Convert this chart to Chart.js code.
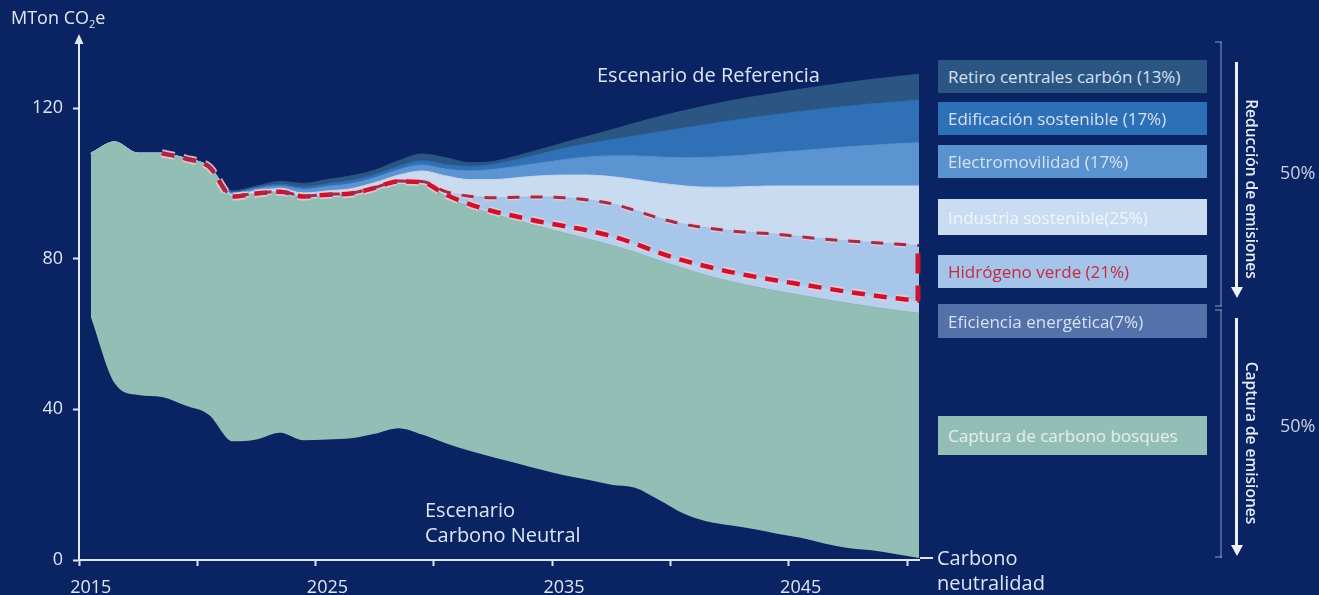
<!DOCTYPE html>
<html lang="es">
<head>
<meta charset="utf-8">
<title>Trayectoria de emisiones hacia la carbono neutralidad</title>
<script src="https://cdn.jsdelivr.net/npm/chart.js@4.4.1/dist/chart.umd.min.js"></script>
<style>
  html, body { margin: 0; padding: 0; background: #0a2362; }
  #wrap { position: relative; width: 1319px; height: 595px; overflow: hidden;
          font-family: 'Open Sans', 'Noto Sans', sans-serif; color: #dfe6f2; }
  #chart { position: absolute; left: 0; top: 0; }
  .t { position: absolute; white-space: nowrap; line-height: 1; }
  .note { font-size: 20px; line-height: 25px; color: #dce5f3; }
  .box { position: absolute; left: 938px; width: 269px; box-sizing: border-box;
         padding-left: 10px; display: flex; align-items: center;
         font-size: 17px; color: #d6e1f1; white-space: nowrap; }
  .vline { position: absolute; width: 2px; background: rgba(150,172,206,0.45); }
  .cap { position: absolute; height: 2px; width: 7px; background: rgba(150,172,206,0.45); }
  .arrow { position: absolute; width: 3px; background: #eef2f8; }
  .head { position: absolute; width: 0; height: 0; border-left: 6px solid transparent;
          border-right: 6px solid transparent; border-top: 11px solid #eef2f8; }
  .vert { position: absolute; writing-mode: vertical-rl; white-space: nowrap;
          font-size: 15.5px; font-weight: 600; color: #e6ecf5; transform: translate(-50%, -50%); }
  .pct { font-size: 18px; color: #c9d2e2; }
</style>
</head>
<body>
<div id="wrap">
  <canvas id="chart" width="1319" height="595"></canvas>

  <div class="t" style="left:11px;top:8px;font-size:18px;color:#e3e8f2;">MTon CO<span style="font-size:11px;position:relative;top:4px;">2</span>e</div>

  <div class="t note" style="left:597px;top:62px;">Escenario de Referencia</div>
  <div class="t note" style="left:425px;top:497px;">Escenario<br>Carbono Neutral</div>
  <div class="t note" style="left:937px;top:545px;">Carbono<br>neutralidad</div>
  <div style="position:absolute;left:920px;top:557px;width:13px;height:2px;background:#dfe6f2;"></div>

  <div class="box" style="top:60px;height:33px;background:#2b5684;">Retiro centrales carbón (13%)</div>
  <div class="box" style="top:102px;height:33px;background:#2e70b8;">Edificación sostenible (17%)</div>
  <div class="box" style="top:145px;height:33px;background:#5893d0;">Electromovilidad (17%)</div>
  <div class="box" style="top:199px;height:36px;background:#c9dcf2;color:#f1f6fc;">Industria sostenible(25%)</div>
  <div class="box" style="top:255px;height:33px;background:#a6c4e9;color:#c42a40;">Hidrógeno verde (21%)</div>
  <div class="box" style="top:304px;height:34px;background:#5571a9;">Eficiencia energética(7%)</div>
  <div class="box" style="top:416px;height:39px;background:#93beb5;color:#e4efec;">Captura de carbono bosques</div>

  <div class="vline" style="left:1220px;top:42px;height:264px;"></div>
  <div class="cap" style="left:1215px;top:41px;"></div>
  <div class="cap" style="left:1215px;top:305px;"></div>
  <div class="vline" style="left:1220px;top:310px;height:248px;"></div>
  <div class="cap" style="left:1215px;top:309px;"></div>
  <div class="cap" style="left:1215px;top:556px;"></div>

  <div class="arrow" style="left:1235px;top:62px;height:226px;"></div>
  <div class="head" style="left:1230.5px;top:287px;"></div>
  <div class="arrow" style="left:1235px;top:318px;height:228px;"></div>
  <div class="head" style="left:1230.5px;top:545px;"></div>

  <div class="vert" style="left:1252px;top:189px;">Reducción de emisiones</div>
  <div class="vert" style="left:1252px;top:443px;">Captura de emisiones</div>

  <div class="t pct" style="left:1280px;top:163px;">50%</div>
  <div class="t pct" style="left:1280px;top:416px;">50%</div>
</div>

<script>
// Years of the projection (one value per year)
const years = [2015, 2016, 2017, 2018, 2019, 2020, 2021, 2022, 2023, 2024,
               2025, 2026, 2027, 2028, 2029, 2030, 2031, 2032, 2033, 2034,
               2035, 2036, 2037, 2038, 2039, 2040, 2041, 2042, 2043, 2044,
               2045, 2046, 2047, 2048, 2049, 2050];

// Emission trajectories (MTon CO2e). Each one is the level left after the
// measure named, so the band between two consecutive trajectories is that measure.
const referencia = [108, 111, 108, 108, 106.6, 104.4,
  98, 99.3, 100.5, 100, 101, 102, 103.5, 106, 107.8, 106.8,
  105.5, 105.8, 107.3, 109, 110.8, 112.5, 114.2, 116, 117.7, 119.2,
  120.6, 121.9, 123, 124, 125, 125.9, 126.8, 127.6, 128.3, 129];
const trasRetiroCarbon = [108, 111, 108, 108, 106.6, 104.4,
  97.7, 98.9, 99.8, 99, 99.9, 100.7, 102.3, 104.5, 106, 105,
  104.5, 105, 106.3, 107.8, 109.3, 110.5, 111.6, 112.6, 113.6, 114.6,
  115.6, 116.6, 117.5, 118.3, 119.1, 119.8, 120.5, 121.1, 121.6, 122.1];
const trasEdificacion = [108, 111, 108, 108, 106.6, 104.4,
  97.4, 98.6, 99.3, 98.4, 99.2, 99.9, 101.5, 103.6, 104.9, 103.8,
  103.3, 103.7, 104.5, 105.4, 106.3, 107, 107.3, 107.3, 107, 106.8,
  106.9, 107.2, 107.7, 108.2, 108.7, 109.2, 109.7, 110.1, 110.5, 110.8];
const trasElectromovilidad = [108, 111, 108, 108, 106.6, 104.4,
  97, 98, 98.6, 97.4, 98, 98.6, 100.2, 102.2, 103.3, 102,
  101, 101, 101.5, 102, 102.2, 102.2, 101.8, 101, 100.1, 99.4,
  99, 99, 99.2, 99.3, 99.3, 99.3, 99.3, 99.3, 99.3, 99.3];
const trasIndustria = [108, 111, 108, 108, 106.6, 104.4,
  96.6, 97.4, 97.9, 96.6, 97.1, 97.4, 98.9, 100.6, 100.5, 97.8,
  96.6, 96.2, 96.3, 96.4, 96.2, 95.6, 94.6, 92.8, 90.8, 89.2,
  88.2, 87.4, 86.9, 86.5, 85.8, 85.2, 84.7, 84.3, 83.9, 83.5];
const trasHidrogeno = [108, 111, 108, 108, 106.6, 104.4,
  96.5, 97.3, 97.8, 96.5, 97, 97.3, 98.8, 100.5, 100.3, 97,
  94.5, 92.6, 91.2, 89.8, 88.7, 87.5, 86, 84, 81.6, 79.6,
  78, 76.5, 75.3, 74.2, 73.2, 72.2, 71.2, 70.3, 69.5, 68.8];
const trasEficiencia = [108, 111, 108, 108, 106.6, 104.4,
  96.4, 97.2, 97.7, 96.3, 96.8, 97, 98.5, 100.3, 100, 96.5,
  93.8, 91.8, 90.2, 88.5, 86.8, 85.2, 83.6, 81.7, 79.5, 77.5,
  75.6, 74, 72.6, 71.4, 70.3, 69.2, 68.2, 67.2, 66.3, 65.5];
// Net emissions once forest capture is subtracted (Escenario Carbono Neutral)
const netas = [64.5, 47, 43.8, 43.3, 41, 38.5,
  31.5, 32, 33.8, 31.8, 32, 32.3, 33.5, 35, 33.3, 31,
  29, 27.3, 25.7, 24, 22.5, 21.3, 20, 19.2, 16, 12.5,
  10.3, 9.2, 8.2, 7, 5.9, 4.4, 3.2, 2.6, 1.6, 0.5];

// Axis ticks
const yTicks = [0, 40, 80, 120];
const xTickYears = [2015, 2020, 2025, 2030, 2035, 2040, 2045, 2050];
const xLabelYears = [2015, 2025, 2035, 2045];
const dashFrom = 2018;   // measures are traced from this year on

const axisColor = '#dfe6f2';
const red = '#c8142f';

// Annual values sit in the middle of their year
const pts = (arr, from) => years
  .map((yr, i) => ({ x: yr + 0.5, y: arr[i] }))
  .filter(p => from === undefined || p.x >= from);

const band = (label, arr, color) => ({
  label, data: pts(arr), fill: '-1', backgroundColor: color,
  borderColor: color, borderWidth: 1, pointRadius: 0,
  cubicInterpolationMode: 'monotone'
});

const dashed = (label, arr, color, width, dash, order) => ({
  label, data: pts(arr, dashFrom), fill: false, borderColor: color,
  borderWidth: width, borderDash: dash, pointRadius: 0, order,
  cubicInterpolationMode: 'monotone'
});

const decor = {
  id: 'decor',
  afterDraw(chart) {
    const { ctx, chartArea: a, scales: { x, y } } = chart;
    ctx.save();
    // arrowhead on top of the vertical axis
    ctx.fillStyle = axisColor;
    ctx.beginPath();
    ctx.moveTo(a.left, a.top - 4);
    ctx.lineTo(a.left - 4.5, a.top + 6);
    ctx.lineTo(a.left + 4.5, a.top + 6);
    ctx.closePath();
    ctx.fill();
    // red dashed edge closing the hydrogen band in the last year
    const last = years.length - 1;
    const xe = x.getPixelForValue(years[last] + 0.5) - 1;
    ctx.strokeStyle = red;
    ctx.lineWidth = 5;
    ctx.setLineDash([20, 12]);
    ctx.lineDashOffset = 24;
    ctx.beginPath();
    ctx.moveTo(xe, y.getPixelForValue(trasIndustria[last]));
    ctx.lineTo(xe, y.getPixelForValue(trasHidrogeno[last]));
    ctx.stroke();
    ctx.restore();
  }
};

new Chart(document.getElementById('chart'), {
  type: 'line',
  data: {
    datasets: [
      { label: 'Escenario Carbono Neutral', data: pts(netas), fill: false,
        borderWidth: 0, borderColor: 'rgba(0,0,0,0)', pointRadius: 0,
        cubicInterpolationMode: 'monotone' },
      band('Captura de carbono bosques', trasEficiencia, '#93beb5'),
      band('Eficiencia energética', trasHidrogeno, '#b8d0ed'),
      band('Hidrógeno verde', trasIndustria, '#a8c6ea'),
      band('Industria sostenible', trasElectromovilidad, '#c8dbf0'),
      band('Electromovilidad', trasEdificacion, '#5b94d0'),
      band('Edificación sostenible', trasRetiroCarbon, '#2f70b6'),
      band('Retiro centrales carbón', referencia, '#2b5684'),
      dashed('halo industria', trasIndustria, 'rgba(247,196,208,0.85)', 6, [12, 11], -1),
      dashed('halo hidrógeno', trasHidrogeno, 'rgba(247,196,208,0.85)', 8, [13, 9], -1),
      dashed('límite industria', trasIndustria, '#96304f', 3, [12, 11], -2),
      dashed('límite hidrógeno', trasHidrogeno, red, 4.5, [13, 9], -2)
    ]
  },
  options: {
    responsive: false,
    animation: false,
    devicePixelRatio: 1,
    layout: { padding: { top: 38, right: 400, bottom: 0, left: 0 } },
    plugins: { legend: { display: false }, tooltip: { enabled: false } },
    scales: {
      x: {
        type: 'linear',
        min: years[0],
        max: years[years.length - 1] + 0.5,
        afterBuildTicks(scale) {
          const marks = xTickYears.map(v => ({ value: v }));
          const labels = xLabelYears.map(v => ({ value: v + 0.5 }));
          scale.ticks = marks.concat(labels).sort((p, q) => p.value - q.value);
        },
        afterFit(scale) { scale.height = 35; },
        ticks: {
          autoSkip: false, maxRotation: 0, padding: 11, color: axisColor,
          font: { family: "'Open Sans', sans-serif", size: 18 },
          callback: v => (Number.isInteger(v) ? '' : String(v - 0.5))
        },
        grid: {
          drawOnChartArea: false, tickLength: 6, tickWidth: 2,
          tickColor: ctx => (ctx.tick && Number.isInteger(ctx.tick.value) ? axisColor : 'rgba(0,0,0,0)')
        },
        border: { color: axisColor, width: 2 }
      },
      y: {
        min: 0,
        max: 138.6,
        afterBuildTicks(scale) { scale.ticks = yTicks.map(v => ({ value: v })); },
        afterFit(scale) { scale.width = 79; },
        ticks: {
          padding: 10, color: axisColor,
          font: { family: "'Open Sans', sans-serif", size: 18 }
        },
        grid: { drawOnChartArea: false, tickLength: 6, tickWidth: 2, tickColor: axisColor },
        border: { color: axisColor, width: 2 }
      }
    }
  },
  plugins: [decor]
});
</script>
</body>
</html>
